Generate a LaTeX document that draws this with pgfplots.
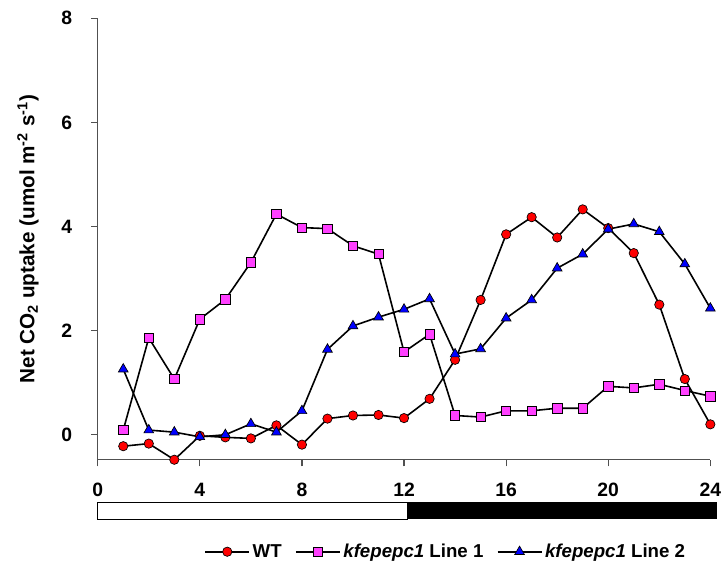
\documentclass[border=0pt]{standalone}
\usepackage{fontspec}
\setmainfont{Liberation Sans}
\usepackage{pgfplots}
\pgfplotsset{compat=1.18}
\definecolor{mred}{HTML}{FF0000}
\definecolor{mmag}{HTML}{FF40FF}
\definecolor{mblue}{HTML}{0000FF}
\definecolor{axgray}{HTML}{505050}
\begin{document}
\begin{tikzpicture}
\begin{axis}[
  at={(0,0)}, anchor=south west,
  scale only axis, width=459.45pt, height=331.05pt,
  xmin=0, xmax=24, ymin=-0.48, ymax=8,
  axis x line=bottom, axis y line=left,
  axis line style={-, axgray, line width=0.9pt},
  xtick={0,4,...,24}, ytick={0,2,...,8},
  xticklabels={},
  tick align=outside, major tick length=5pt,
  tick style={axgray, line width=0.9pt},
  minor tick num=0,
  clip=false,
  /pgf/number format/assume math mode=true,
  tick label style={font=\bfseries\fontsize{14.5}{17}\selectfont, inner sep=0pt},
  yticklabel style={anchor=east, xshift=-14pt},
  ylabel={Net CO\textsubscript{2} uptake (umol m\textsuperscript{-2} s\textsuperscript{-1})},
  ylabel style={font=\bfseries\fontsize{15.5}{18}\selectfont, at={(axis description cs:-0.1138,0.5)}, anchor=center},
  legend columns=3,
  legend style={at={(axis description cs:0.5687,-0.2084)}, anchor=center, draw=none, fill=none,
    font=\bfseries\fontsize{14}{16}\selectfont,
    /tikz/every even column/.append style={column sep=8pt}},
  legend image code/.code={\draw[mark repeat=2,mark phase=2,#1] plot coordinates {(0cm,0cm) (0.58cm,0cm) (1.16cm,0cm)};},
]
\addplot[black, line width=1.2pt, mark=*, mark size=3.5pt, mark options={fill=mred, draw=black, line width=0.5pt}]
coordinates {(1,-0.22) (2,-0.17) (3,-0.48) (4,-0.02) (5,-0.05) (6,-0.07) (7,0.18) (8,-0.19) (9,0.31) (10,0.37) (11,0.38) (12,0.32) (13,0.69) (14,1.44) (15,2.59) (16,3.85) (17,4.18) (18,3.79) (19,4.33) (20,3.97) (21,3.49) (22,2.50) (23,1.07) (24,0.20)};
\addlegendentry{WT}
\addplot[black, line width=1.2pt, mark=square*, mark size=3.5pt, mark options={fill=mmag, draw=black, line width=0.5pt}]
coordinates {(1,0.09) (2,1.86) (3,1.07) (4,2.22) (5,2.60) (6,3.31) (7,4.24) (8,3.98) (9,3.96) (10,3.63) (11,3.47) (12,1.59) (13,1.93) (14,0.37) (15,0.34) (16,0.46) (17,0.46) (18,0.51) (19,0.51) (20,0.93) (21,0.90) (22,0.97) (23,0.85) (24,0.74)};
\addlegendentry{\textit{kfepepc1} Line 1}
\addplot[black, line width=1.2pt, mark=triangle*, mark size=4.2pt, mark options={fill=mblue, draw=black, line width=0.5pt}]
coordinates {(1,1.26) (2,0.09) (3,0.05) (4,-0.04) (5,0.00) (6,0.21) (7,0.05) (8,0.46) (9,1.64) (10,2.09) (11,2.26) (12,2.41) (13,2.61) (14,1.55) (15,1.65) (16,2.24) (17,2.59) (18,3.20) (19,3.47) (20,3.95) (21,4.05) (22,3.90) (23,3.28) (24,2.43)};
\addlegendentry{\textit{kfepepc1} Line 2}
\addplot[forget plot, draw=none, mark=none, point meta=x, nodes near coords,
  every node near coord/.append style={anchor=center, inner sep=0pt, font=\bfseries\fontsize{14.5}{17}\selectfont, black}]
coordinates {(0,-1.058) (4,-1.058) (8,-1.058) (12,-1.058) (16,-1.058) (20,-1.058) (24,-1.058)};
\draw[black, line width=0.6pt, fill=white] (axis cs:0,-1.30) rectangle (axis cs:12.13,-1.62);
\fill[black] (axis cs:12.13,-1.30) rectangle (axis cs:24.25,-1.62);
\end{axis}
\pgfresetboundingbox
\path[use as bounding box] (-73.3pt,-81.2pt) rectangle (469.7pt,344.8pt);
\end{tikzpicture}
\end{document}
